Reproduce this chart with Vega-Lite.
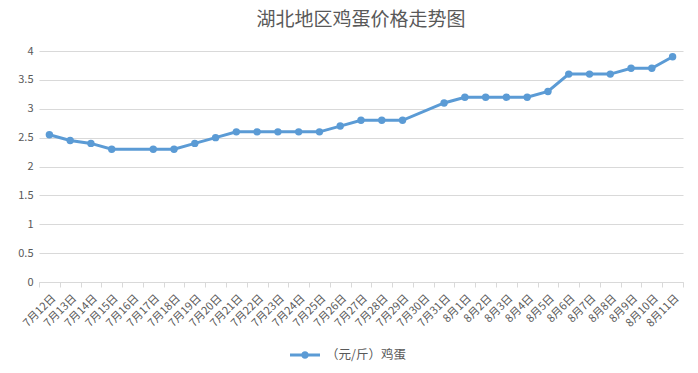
{
  "$schema": "https://vega.github.io/schema/vega-lite/v6.json",
  "width": 644,
  "height": 231,
  "autosize": {"type": "none"},
  "padding": {"left": 39, "top": 51, "right": 15, "bottom": 91},
  "background": "white",
  "title": {"text": "湖北地区鸡蛋价格走势图", "fontSize": 19, "font": "Noto Sans CJK SC", "fontWeight": "normal", "color": "#595959", "anchor": "middle", "offset": 15, "frame": "group"},
  "config": {"view": {"stroke": null}, "font": "Noto Sans CJK SC"},
  "data": {"values": [
    {"date": "7月12日", "price": 2.55, "series": "（元/斤）鸡蛋"},
    {"date": "7月13日", "price": 2.45, "series": "（元/斤）鸡蛋"},
    {"date": "7月14日", "price": 2.4, "series": "（元/斤）鸡蛋"},
    {"date": "7月15日", "price": 2.3, "series": "（元/斤）鸡蛋"},
    {"date": "7月17日", "price": 2.3, "series": "（元/斤）鸡蛋"},
    {"date": "7月18日", "price": 2.3, "series": "（元/斤）鸡蛋"},
    {"date": "7月19日", "price": 2.4, "series": "（元/斤）鸡蛋"},
    {"date": "7月20日", "price": 2.5, "series": "（元/斤）鸡蛋"},
    {"date": "7月21日", "price": 2.6, "series": "（元/斤）鸡蛋"},
    {"date": "7月22日", "price": 2.6, "series": "（元/斤）鸡蛋"},
    {"date": "7月23日", "price": 2.6, "series": "（元/斤）鸡蛋"},
    {"date": "7月24日", "price": 2.6, "series": "（元/斤）鸡蛋"},
    {"date": "7月25日", "price": 2.6, "series": "（元/斤）鸡蛋"},
    {"date": "7月26日", "price": 2.7, "series": "（元/斤）鸡蛋"},
    {"date": "7月27日", "price": 2.8, "series": "（元/斤）鸡蛋"},
    {"date": "7月28日", "price": 2.8, "series": "（元/斤）鸡蛋"},
    {"date": "7月29日", "price": 2.8, "series": "（元/斤）鸡蛋"},
    {"date": "7月31日", "price": 3.1, "series": "（元/斤）鸡蛋"},
    {"date": "8月1日", "price": 3.2, "series": "（元/斤）鸡蛋"},
    {"date": "8月2日", "price": 3.2, "series": "（元/斤）鸡蛋"},
    {"date": "8月3日", "price": 3.2, "series": "（元/斤）鸡蛋"},
    {"date": "8月4日", "price": 3.2, "series": "（元/斤）鸡蛋"},
    {"date": "8月5日", "price": 3.3, "series": "（元/斤）鸡蛋"},
    {"date": "8月6日", "price": 3.6, "series": "（元/斤）鸡蛋"},
    {"date": "8月7日", "price": 3.6, "series": "（元/斤）鸡蛋"},
    {"date": "8月8日", "price": 3.6, "series": "（元/斤）鸡蛋"},
    {"date": "8月9日", "price": 3.7, "series": "（元/斤）鸡蛋"},
    {"date": "8月10日", "price": 3.7, "series": "（元/斤）鸡蛋"},
    {"date": "8月11日", "price": 3.9, "series": "（元/斤）鸡蛋"}
  ]},
  "mark": {"type": "line", "strokeWidth": 3, "point": {"filled": true, "size": 55, "color": "#5B9BD5"}},
  "encoding": {
    "x": {
      "field": "date", "type": "ordinal",
      "scale": {"type": "band", "paddingInner": 0, "paddingOuter": 0,
        "domain": ["7月12日","7月13日","7月14日","7月15日","7月16日","7月17日","7月18日","7月19日","7月20日","7月21日","7月22日","7月23日","7月24日","7月25日","7月26日","7月27日","7月28日","7月29日","7月30日","7月31日","8月1日","8月2日","8月3日","8月4日","8月5日","8月6日","8月7日","8月8日","8月9日","8月10日","8月11日"]},
      "axis": {"title": null, "grid": false, "domainColor": "#D9D9D9", "tickColor": "#D9D9D9", "tickSize": 5, "tickBand": "extent", "labelAngle": -45, "labelColor": "#595959", "labelFontSize": 11, "labelPadding": 5, "labelFont": "Noto Sans CJK SC"}
    },
    "y": {
      "field": "price", "type": "quantitative",
      "scale": {"domain": [0, 4], "nice": false},
      "axis": {"title": null, "values": [0,0.5,1,1.5,2,2.5,3,3.5,4], "format": "~g", "domain": false, "ticks": false, "gridColor": "#D9D9D9", "labelColor": "#595959", "labelFontSize": 11, "labelPadding": 6, "labelFont": "Noto Sans CJK SC"}
    },
    "color": {
      "field": "series", "type": "nominal",
      "scale": {"range": ["#5B9BD5"]},
      "legend": {"title": null, "orient": "none", "legendX": 251, "legendY": 289, "padding": 0,
        "symbolType": "M-1,-0.1L1,-0.1L1,0.1L-1,0.1Z M0.25,0A0.25,0.25 0 1,1 -0.25,0A0.25,0.25 0 1,1 0.25,0Z",
        "symbolSize": 900, "symbolStrokeWidth": 0, "symbolFillColor": "#5B9BD5",
        "labelColor": "#595959", "labelFontSize": 12.5, "labelOffset": 6, "labelFont": "Noto Sans CJK SC",
        "encode": {"symbols": {"update": {"fill": {"value": "#5B9BD5"}, "strokeWidth": {"value": 0}}}}}
    }
  }
}
